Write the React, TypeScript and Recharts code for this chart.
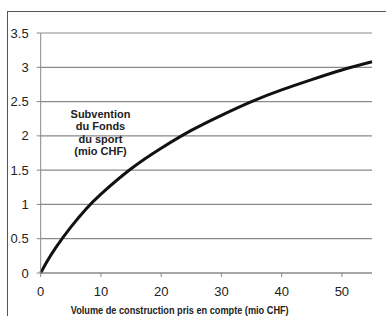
import { LineChart, Line, XAxis, YAxis, CartesianGrid } from "recharts";

const volume = [0, 1, 2.5, 5, 7.5, 10, 15, 20, 25, 30, 35, 40, 45, 50, 55];
const subsidy = [0, 0.16, 0.37, 0.67, 0.93, 1.15, 1.52, 1.82, 2.08, 2.3, 2.5, 2.67, 2.82, 2.96, 3.08];
const xTicks = [0, 10, 20, 30, 40, 50];
const yTicks = [0, 0.5, 1, 1.5, 2, 2.5, 3, 3.5];
const noteLines = ["Subvention", "du Fonds", "du sport", "(mio CHF)"];
const xTitle = "Volume de construction pris en compte (mio CHF)";

const data = volume.map((v, i) => ({ volume: v, subsidy: subsidy[i] }));

const font = '"Liberation Sans", Arial, sans-serif';

// axis title sits a bit left of the plot centre in the original
const XTitle = (props: any) => {
  const vb = props.viewBox || {};
  return (
    <text
      x={vb.x + 30}
      y={310}
      fontSize={10}
      fontWeight="bold"
      fill="#222"
      fontFamily={font}
      textLength={218}
      lengthAdjust="spacingAndGlyphs"
      dominantBaseline="central"
    >
      {xTitle}
    </text>
  );
};

export default function App() {
  return (
    <div
      style={{
        position: "absolute",
        left: 0,
        top: 0,
        width: 386,
        height: 316,
        overflow: "hidden",
        background: "#fff",
        fontFamily: font,
      }}
    >
      <div
        style={{
          position: "absolute",
          left: 7,
          top: 11,
          width: 420,
          height: 340,
          border: "1px solid #555",
        }}
      />
      <LineChart
        width={386}
        height={316}
        data={data}
        margin={{ top: 33, right: 14, bottom: 13, left: 0 }}
      >
        <CartesianGrid vertical={false} stroke="#8a8a8a" strokeWidth={1.2} />
        <XAxis
          dataKey="volume"
          type="number"
          domain={[0, 55]}
          ticks={xTicks}
          height={30}
          stroke="#888"
          tickSize={4}
          tickMargin={10}
          tick={{ fill: "#222", fontSize: 13, fontFamily: font }}
          label={<XTitle />}
        />
        <YAxis
          type="number"
          domain={[0, 3.5]}
          ticks={yTicks}
          width={40.7}
          stroke="#888"
          tickSize={4}
          tickMargin={8}
          tick={{ fill: "#222", fontSize: 13, fontFamily: font }}
        />
        <Line
          type="natural"
          dataKey="subsidy"
          stroke="#111"
          strokeWidth={3}
          dot={false}
          isAnimationActive={false}
        />
      </LineChart>
      <div
        style={{
          position: "absolute",
          left: 60,
          top: 108,
          width: 81,
          textAlign: "center",
          fontSize: 11,
          fontWeight: "bold",
          lineHeight: "12.4px",
          color: "#222",
        }}
      >
        {noteLines.map((l) => (
          <div key={l}>{l}</div>
        ))}
      </div>
    </div>
  );
}
